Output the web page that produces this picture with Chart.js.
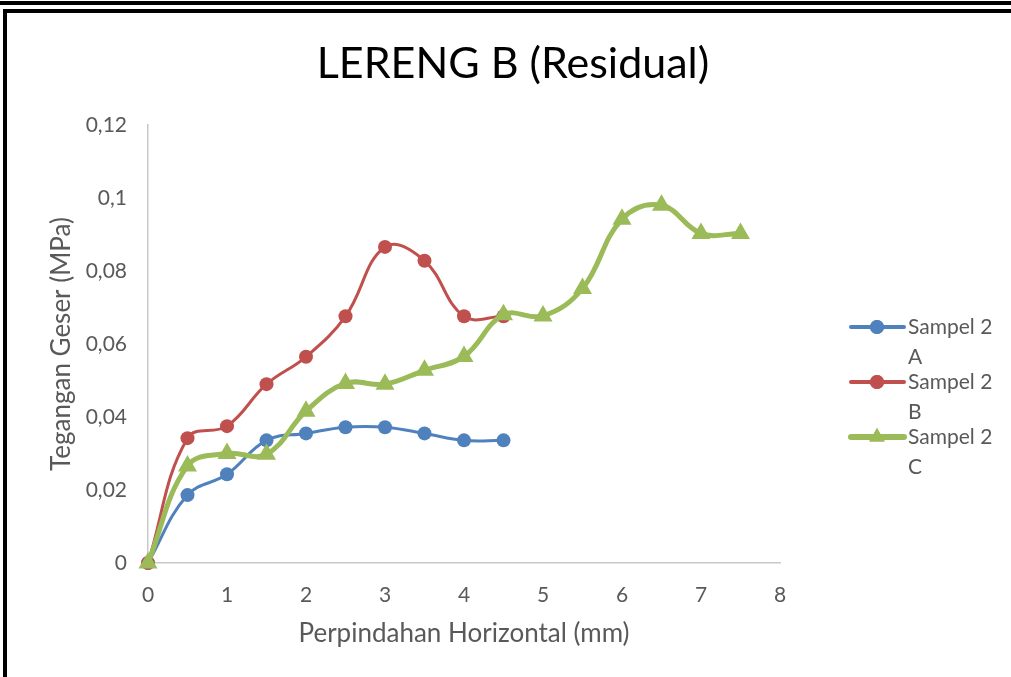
<!DOCTYPE html>
<html>
<head>
<meta charset="utf-8">
<script src="https://cdn.jsdelivr.net/npm/chart.js@4.4.1/dist/chart.umd.min.js"></script>
<style>
  html, body { margin: 0; padding: 0; background: #fff; }
  #wrap { position: relative; width: 1011px; height: 677px; overflow: hidden; }
  .bar { position: absolute; background: #000; }
</style>
</head>
<body>
<div id="wrap">
  <canvas id="chart" width="1011" height="677"></canvas>
  <div class="bar" style="left:0;top:1px;width:1011px;height:4px"></div>
  <div class="bar" style="left:3px;top:9px;width:1008px;height:4px"></div>
  <div class="bar" style="left:3px;top:9px;width:4px;height:668px"></div>
</div>
<script>
// values
const xValues = [0, 0.5, 1, 1.5, 2, 2.5, 3, 3.5, 4, 4.5, 5, 5.5, 6, 6.5, 7, 7.5];
const sampelA = [0, 0.0186, 0.0243, 0.0336, 0.0355, 0.0372, 0.0372, 0.0355, 0.0336, 0.0336];
const sampelB = [0, 0.0342, 0.0375, 0.0490, 0.0565, 0.0676, 0.0866, 0.0828, 0.0676, 0.0676];
const sampelC = [0, 0.0266, 0.0300, 0.0298, 0.0416, 0.0492, 0.0490, 0.0528, 0.0566, 0.0680, 0.0677, 0.0752, 0.0942, 0.0980, 0.0903, 0.0903];
const seriesNames = ['Sampel 2 A', 'Sampel 2 B', 'Sampel 2 C'];
const yTicks = [0, 0.02, 0.04, 0.06, 0.08, 0.1, 0.12];
const yTickLabels = ['0', '0,02', '0,04', '0,06', '0,08', '0,1', '0,12'];
const xTicks = [0, 1, 2, 3, 4, 5, 6, 7, 8];
const chartTitle = 'LERENG B (Residual)';

const FONT = 'Lato, "Open Sans", sans-serif';
const GREY = '#595959';

function toPoints(vals) {
    return vals.map((v, i) => ({x: xValues[i], y: v}));
}

const styles = [
    {color: '#4f81bd', width: 3, style: 'circle', radius: 7},
    {color: '#c0504d', width: 3, style: 'circle', radius: 7},
    {color: '#9bbb59', width: 5, style: 'triangle', radius: 11}
];

const seriesData = [sampelA, sampelB, sampelC];

const datasets = seriesData.map((vals, i) => ({
    label: seriesNames[i],
    data: toPoints(vals),
    borderColor: styles[i].color,
    backgroundColor: styles[i].color,
    borderWidth: styles[i].width,
    pointStyle: styles[i].style,
    pointRadius: styles[i].radius,
    pointBorderWidth: 0,
    pointBackgroundColor: styles[i].color,
    tension: 0.4,
    clip: 14,
    order: 2 - i
}));

// title centred on the whole canvas and legend with wrapped names, drawn by hand
const decorations = {
    id: 'decorations',
    afterDraw(chart) {
        const ctx = chart.ctx;
        ctx.save();
        ctx.fillStyle = '#000';
        ctx.font = '43px ' + FONT;
        ctx.textAlign = 'center';
        ctx.textBaseline = 'alphabetic';
        ctx.fillText(chartTitle, 513, 78);

        seriesNames.forEach((name, i) => {
            const y = 327 + i * 55;
            const st = styles[i];
            ctx.strokeStyle = st.color;
            ctx.lineWidth = st.width + 1;
            ctx.lineCap = 'round';
            ctx.beginPath();
            ctx.moveTo(851, y);
            ctx.lineTo(904, y);
            ctx.stroke();
            ctx.fillStyle = st.color;
            Chart.helpers.drawPoint(ctx, {pointStyle: st.style, radius: st.radius - (st.style === 'triangle' ? 2 : 0), borderWidth: 0}, 877, y);
            ctx.fill();
            const cut = name.lastIndexOf(' ');
            ctx.fillStyle = GREY;
            ctx.font = '21px ' + FONT;
            ctx.textBaseline = 'middle';
            ctx.textAlign = 'left';
            ctx.fillText(name.slice(0, cut), 908, y);
            ctx.fillText(name.slice(cut + 1), 908, y + 30);
        });
        ctx.restore();
    }
};

const ctx = document.getElementById('chart');
new Chart(ctx, {
    type: 'line',
    data: {datasets: datasets},
    options: {
        responsive: false,
        animation: false,
        layout: {padding: {left: 0, right: 231, top: 125, bottom: 0}},
        plugins: {
            legend: {display: false},
            tooltip: {enabled: false},
            title: {display: false}
        },
        scales: {
            x: {
                type: 'linear',
                min: 0,
                max: 8,
                afterFit: s => { s.height = 114; },
                afterBuildTicks: s => { s.ticks = xTicks.map(v => ({value: v})); },
                grid: {display: false},
                border: {display: true, color: '#c8c8c8', width: 1.5},
                ticks: {color: GREY, font: {family: FONT, size: 21}, padding: 12, maxRotation: 0},
                title: {
                    display: true,
                    text: 'Perpindahan Horizontal (mm)',
                    color: GREY,
                    font: {family: FONT, size: 26},
                    padding: {bottom: 28}
                }
            },
            y: {
                type: 'linear',
                min: 0,
                max: 0.12,
                afterFit: s => { s.width = 148; },
                afterBuildTicks: s => { s.ticks = yTicks.map(v => ({value: v})); },
                grid: {display: false},
                border: {display: true, color: '#c8c8c8', width: 1.5},
                ticks: {
                    color: GREY,
                    font: {family: FONT, size: 21},
                    padding: 13,
                    callback: (v, i) => yTickLabels[i]
                },
                title: {
                    display: true,
                    text: 'Tegangan Geser (MPa)',
                    color: GREY,
                    font: {family: FONT, size: 26},
                    padding: {top: 46}
                }
            }
        }
    },
    plugins: [decorations]
});
</script>
</body>
</html>
